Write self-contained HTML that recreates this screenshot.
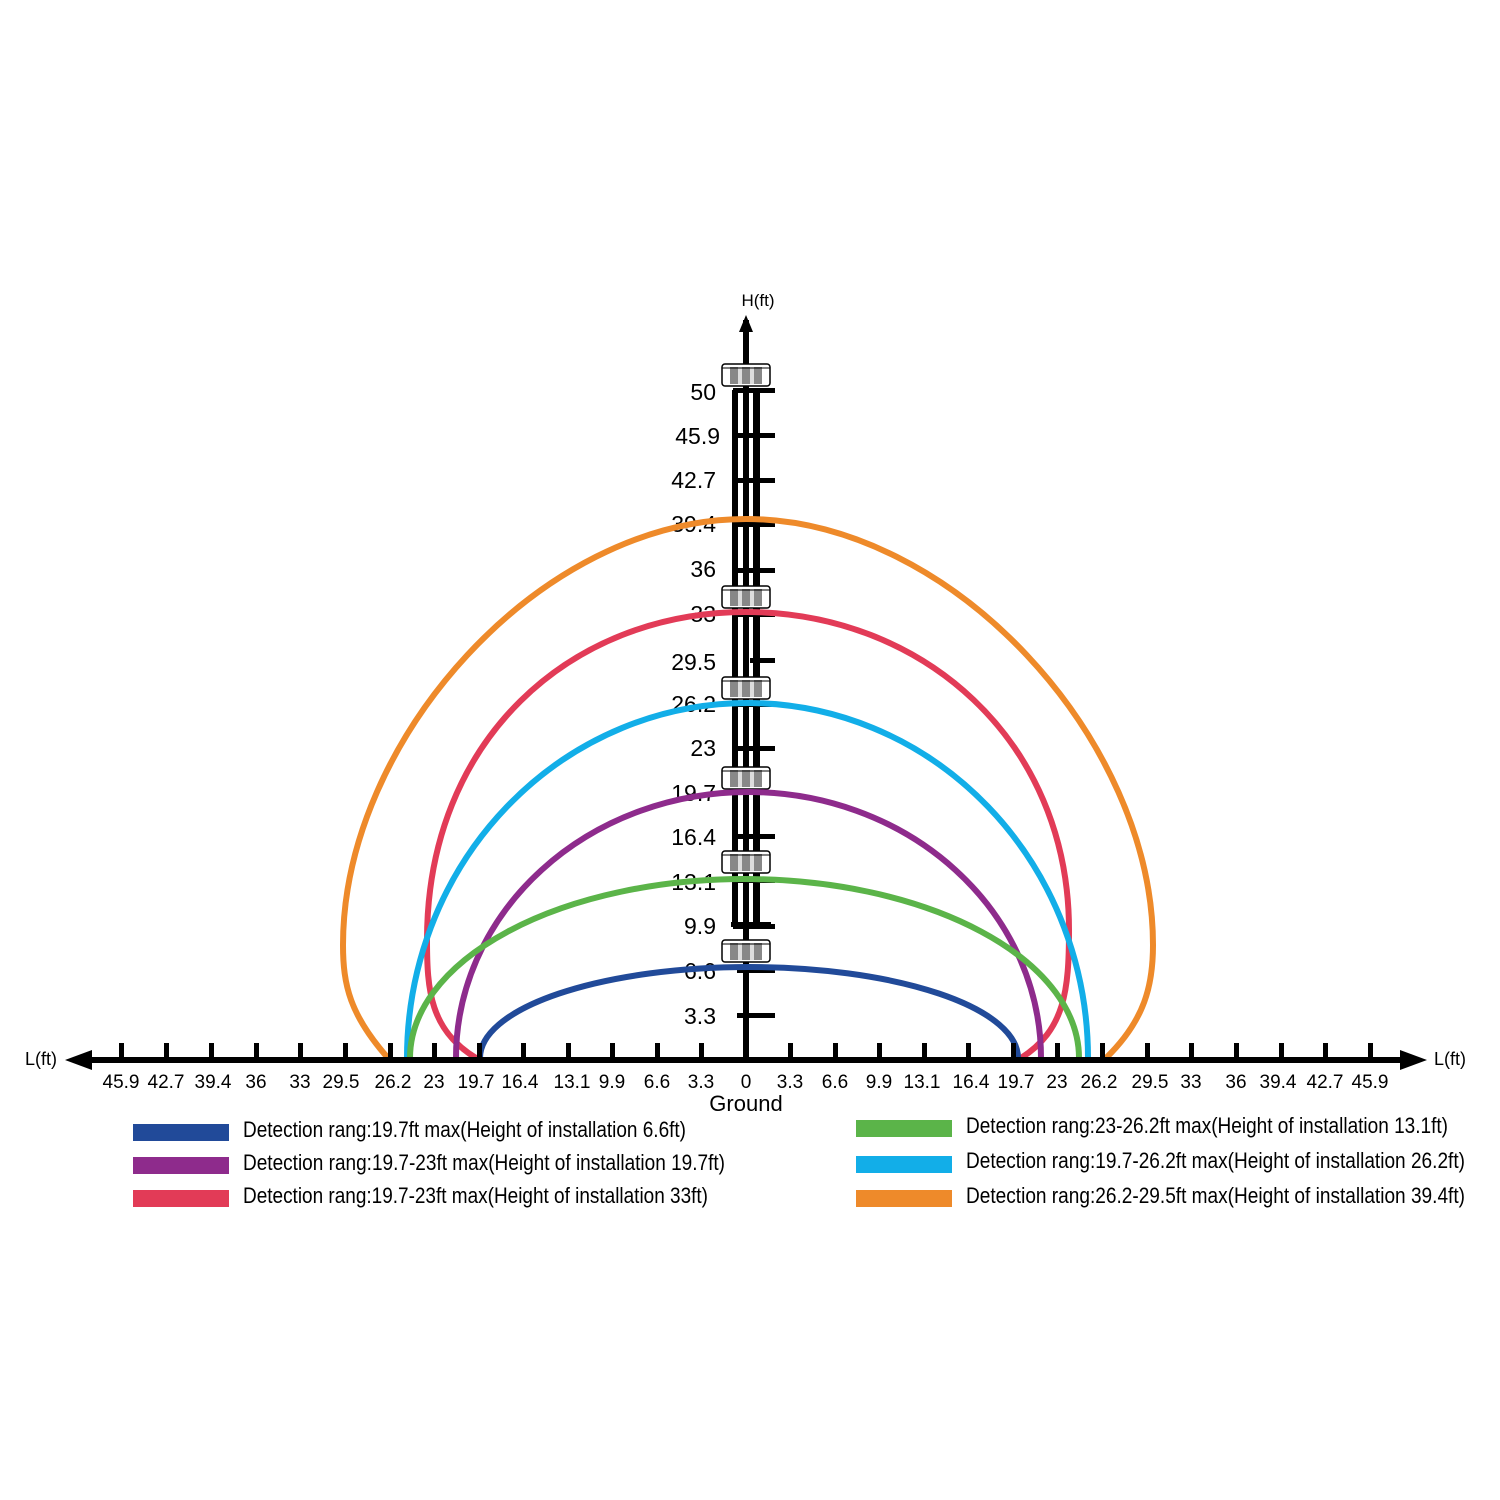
<!DOCTYPE html>
<html><head><meta charset="utf-8"><style>html,body{margin:0;padding:0;background:#fff}svg{display:block}</style></head>
<body>
<svg width="1500" height="1500" viewBox="0 0 1500 1500" xmlns="http://www.w3.org/2000/svg" font-family="Liberation Sans, sans-serif">
<rect width="1500" height="1500" fill="#fff"/>
<g fill="#000">
<rect x="732" y="390" width="6" height="537"/>
<rect x="743" y="380" width="6" height="545"/>
<rect x="753" y="390" width="7" height="535"/>
<rect x="731" y="922" width="40" height="5"/>
<rect x="743" y="320" width="6" height="743"/>
<polygon points="746,315 739,332 753,332"/>
</g>
<g fill="#000">
<rect x="733" y="388" width="42" height="5"/>
<rect x="733" y="433" width="42" height="5"/>
<rect x="733" y="478" width="42" height="5"/>
<rect x="733" y="522" width="42" height="5"/>
<rect x="733" y="568" width="42" height="5"/>
<rect x="733" y="612" width="42" height="5"/>
<rect x="750" y="658" width="25" height="5"/>
<rect x="733" y="702" width="42" height="5"/>
<rect x="733" y="746" width="42" height="5"/>
<rect x="733" y="790" width="42" height="5"/>
<rect x="733" y="834" width="42" height="5"/>
<rect x="733" y="878" width="42" height="5"/>
<rect x="733" y="924" width="42" height="5"/>
<rect x="737" y="968" width="38" height="5"/>
<rect x="737" y="1013" width="38" height="5"/>
</g>
<g font-size="23" text-anchor="end" fill="#000">
<text x="716" y="400">50</text><text x="720" y="444">45.9</text><text x="716" y="488">42.7</text>
<text x="716" y="532">39.4</text><text x="716" y="577">36</text><text x="716" y="622">33</text>
<text x="716" y="670">29.5</text><text x="716" y="712">26.2</text><text x="716" y="756">23</text>
<text x="716" y="801">19.7</text><text x="716" y="845">16.4</text><text x="716" y="890">13.1</text>
<text x="716" y="934">9.9</text><text x="716" y="979">6.6</text><text x="716" y="1024">3.3</text>
</g>
<text x="758" y="306" font-size="17" text-anchor="middle">H(ft)</text>
<g id="s">
<rect x="722" y="364" width="48" height="22" rx="3" fill="#fff" stroke="#000" stroke-width="1.5"/>
<rect x="730" y="367" width="32" height="17" fill="#888"/>
<rect x="738" y="367" width="4" height="17" fill="#ddd"/><rect x="750" y="367" width="4" height="17" fill="#ddd"/>
<line x1="722" y1="368" x2="770" y2="368" stroke="#000" stroke-width="1"/>
</g>
<use href="#s" y="222"/><use href="#s" y="313"/><use href="#s" y="403"/><use href="#s" y="487"/><use href="#s" y="576"/>
<g fill="none" stroke-width="6" stroke-linecap="round">
<path d="M388 1058 C350 1015 343 985 343 945 C343 740 540 519 746 519 C952 519 1153 740 1153 945 C1153 985 1145 1020 1106 1058" stroke="#ee8a2a"/>
<path d="M476 1058 C430 1030 427 990 427 940 C427 740 570 612 746 612 C922 612 1069 740 1069 930 C1069 990 1065 1030 1021 1058" stroke="#e23b57"/>
<path d="M407 1058 A340.5 355 0 0 1 1088 1058" stroke="#12aee8"/>
<path d="M456 1058 A292.5 266 0 0 1 1041 1058" stroke="#8e2b8c"/>
<path d="M410 1058 A334.5 179 0 0 1 1079 1058" stroke="#5bb449"/>
<path d="M480 1058 A269 91 0 0 1 1018 1058" stroke="#214a99"/>
</g>
<rect x="88" y="1057" width="1322" height="6" fill="#000"/>
<polygon points="65,1060 92,1050 92,1070" fill="#000"/>
<polygon points="1427,1060 1400,1050 1400,1070" fill="#000"/>
<g fill="#000">
<rect x="119" y="1043" width="5" height="16"/><rect x="164" y="1043" width="5" height="16"/><rect x="209" y="1043" width="5" height="16"/><rect x="254" y="1043" width="5" height="16"/><rect x="298" y="1043" width="5" height="16"/><rect x="343" y="1043" width="5" height="16"/><rect x="388" y="1043" width="5" height="16"/><rect x="432" y="1043" width="5" height="16"/><rect x="477" y="1043" width="5" height="16"/><rect x="521" y="1043" width="5" height="16"/><rect x="566" y="1043" width="5" height="16"/><rect x="610" y="1043" width="5" height="16"/><rect x="655" y="1043" width="5" height="16"/><rect x="699" y="1043" width="5" height="16"/>
<rect x="788" y="1043" width="5" height="16"/><rect x="833" y="1043" width="5" height="16"/><rect x="877" y="1043" width="5" height="16"/><rect x="922" y="1043" width="5" height="16"/><rect x="966" y="1043" width="5" height="16"/><rect x="1011" y="1043" width="5" height="16"/><rect x="1055" y="1043" width="5" height="16"/><rect x="1100" y="1043" width="5" height="16"/><rect x="1145" y="1043" width="5" height="16"/><rect x="1189" y="1043" width="5" height="16"/><rect x="1234" y="1043" width="5" height="16"/><rect x="1279" y="1043" width="5" height="16"/><rect x="1323" y="1043" width="5" height="16"/><rect x="1368" y="1043" width="5" height="16"/>
</g>
<text x="41" y="1065" font-size="18" text-anchor="middle">L(ft)</text>
<text x="1450" y="1065" font-size="18" text-anchor="middle">L(ft)</text>
<g font-size="19" text-anchor="middle" fill="#000">
<text x="121" y="1088">45.9</text><text x="166" y="1088">42.7</text><text x="213" y="1088">39.4</text><text x="256" y="1088">36</text><text x="300" y="1088">33</text><text x="341" y="1088">29.5</text><text x="393" y="1088">26.2</text><text x="434" y="1088">23</text><text x="476" y="1088">19.7</text><text x="520" y="1088">16.4</text><text x="572" y="1088">13.1</text><text x="612" y="1088">9.9</text><text x="657" y="1088">6.6</text><text x="701" y="1088">3.3</text><text x="746" y="1088">0</text>
<text x="790" y="1088">3.3</text><text x="835" y="1088">6.6</text><text x="879" y="1088">9.9</text><text x="922" y="1088">13.1</text><text x="971" y="1088">16.4</text><text x="1016" y="1088">19.7</text><text x="1057" y="1088">23</text><text x="1099" y="1088">26.2</text><text x="1150" y="1088">29.5</text><text x="1191" y="1088">33</text><text x="1236" y="1088">36</text><text x="1278" y="1088">39.4</text><text x="1325" y="1088">42.7</text><text x="1370" y="1088">45.9</text>
</g>
<text x="746" y="1111" font-size="22" text-anchor="middle">Ground</text>
<rect x="133" y="1124" width="96" height="17" fill="#214a99"/>
<rect x="133" y="1157" width="96" height="17" fill="#8e2b8c"/>
<rect x="133" y="1190" width="96" height="17" fill="#e23b57"/>
<rect x="856" y="1120" width="96" height="17" fill="#5bb449"/>
<rect x="856" y="1156" width="96" height="17" fill="#12aee8"/>
<rect x="856" y="1190" width="96" height="17" fill="#ee8a2a"/>
<g font-size="22" font-family="Liberation Sans Narrow, Liberation Sans, sans-serif" fill="#000">
<text x="243" y="1137" textLength="443" lengthAdjust="spacingAndGlyphs">Detection rang:19.7ft max(Height of installation 6.6ft)</text>
<text x="243" y="1170" textLength="482" lengthAdjust="spacingAndGlyphs">Detection rang:19.7-23ft max(Height of installation 19.7ft)</text>
<text x="243" y="1203" textLength="465" lengthAdjust="spacingAndGlyphs">Detection rang:19.7-23ft max(Height of installation 33ft)</text>
<text x="966" y="1133" textLength="482" lengthAdjust="spacingAndGlyphs">Detection rang:23-26.2ft max(Height of installation 13.1ft)</text>
<text x="966" y="1168" textLength="499" lengthAdjust="spacingAndGlyphs">Detection rang:19.7-26.2ft max(Height of installation 26.2ft)</text>
<text x="966" y="1203" textLength="499" lengthAdjust="spacingAndGlyphs">Detection rang:26.2-29.5ft max(Height of installation 39.4ft)</text>
</g>
</svg>
</body></html>
